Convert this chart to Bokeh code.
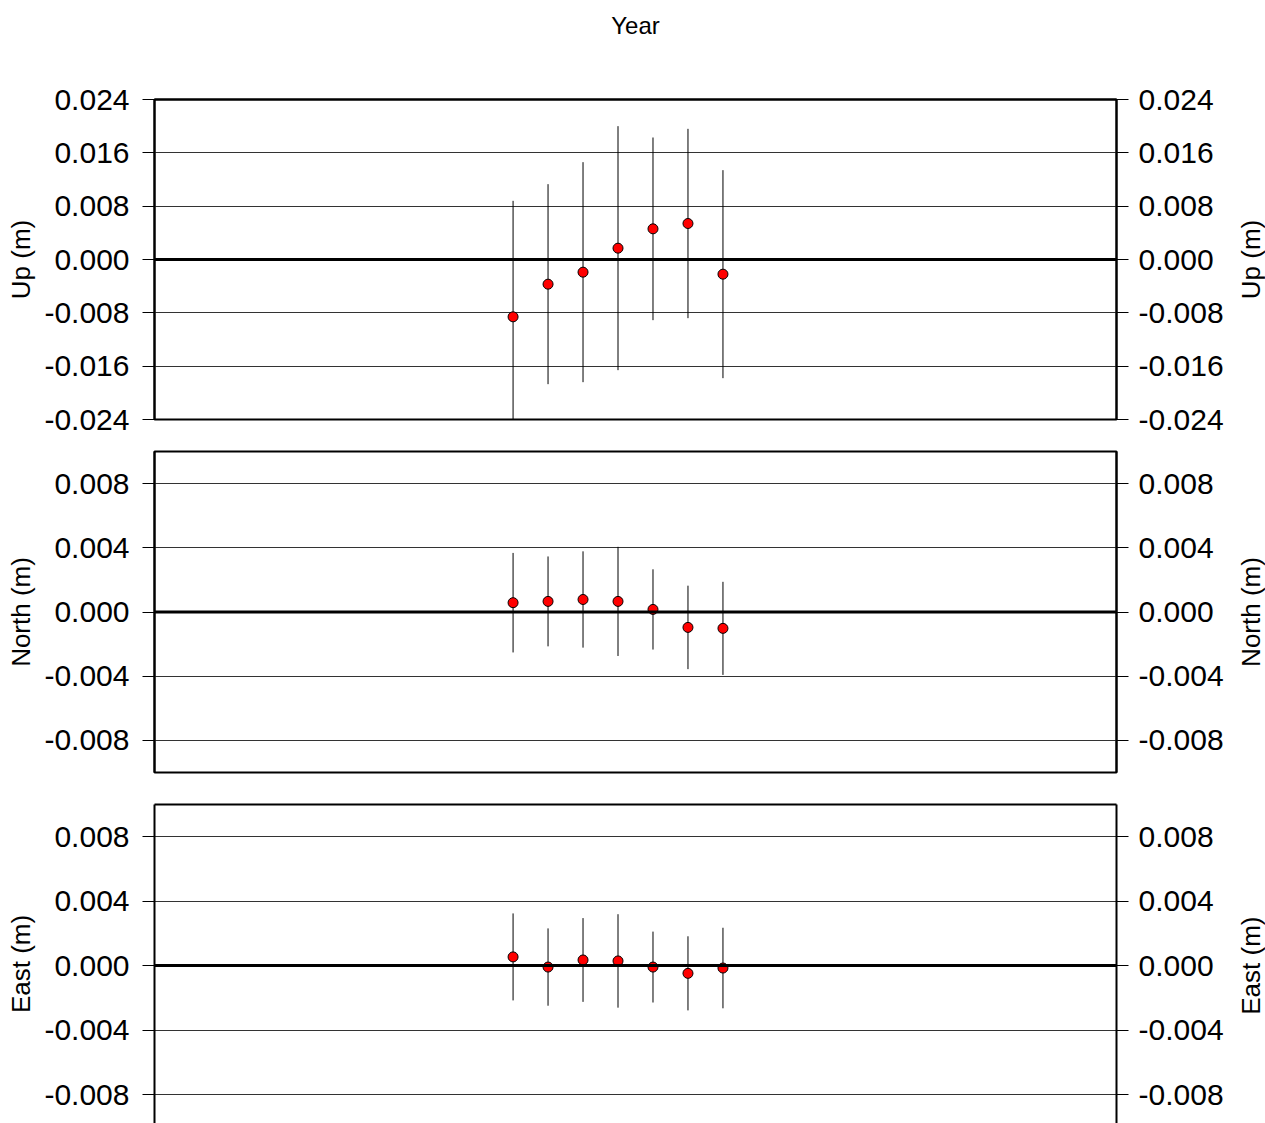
import math
from bokeh.plotting import figure
from bokeh.layouts import column, row
from bokeh.models import LinearAxis, FixedTicker, Range1d, Span, PrintfTickFormatter
from bokeh.core.properties import value
from bokeh.embed import file_html
from bokeh.resources import INLINE

# ---- data ----
years = [2010.25, 2011.25, 2012.25, 2013.25, 2014.25, 2015.25, 2016.25]
up = [-0.0086, -0.0037, -0.0019, 0.0017, 0.0046, 0.0054, -0.0022]
up_err = [0.0174, 0.0150, 0.0165, 0.0183, 0.0137, 0.0142, 0.0156]
north = [0.00058, 0.00066, 0.00078, 0.00066, 0.00016, -0.00096, -0.00102]
north_err = [0.0031, 0.0028, 0.0030, 0.0034, 0.0025, 0.0026, 0.0029]
east = [0.00054, -0.00009, 0.00035, 0.00029, -0.00009, -0.00048, -0.00015]
east_err = [0.0027, 0.0024, 0.0026, 0.0029, 0.0022, 0.0023, 0.0025]
up_ticks = [-0.024, -0.016, -0.008, 0.0, 0.008, 0.016, 0.024]
ne_ticks = [-0.008, -0.004, 0.0, 0.004, 0.008]
x_start, x_end = 2000.0, 2027.5

FONT = "Liberation Sans"
LABEL_W = 40


def make_panel(label, vals, errs, ticks, y0, y1, frame_h, top, bottom, outline, xlabel=None):
    p = figure(frame_width=962, frame_height=frame_h,
               x_range=Range1d(x_start, x_end), y_range=Range1d(y0, y1),
               x_axis_location=None, y_axis_location="left",
               output_backend="svg", toolbar_location=None,
               min_border_left=154, min_border_right=109,
               min_border_top=top, min_border_bottom=bottom,
               background_fill_color="white", border_fill_color="white")
    p.xgrid.visible = False
    p.ygrid.ticker = FixedTicker(ticks=ticks)
    p.ygrid.grid_line_color = "#333333"
    p.ygrid.grid_line_width = 1
    if outline:
        p.outline_line_color = "black"
        p.outline_line_width = 2
        p.outline_line_alpha = 1.0
    else:
        p.outline_line_color = None
    if xlabel is not None or not outline:
        top_ax = LinearAxis(ticker=FixedTicker(ticks=[]), major_tick_out=0,
                            major_tick_in=0, minor_tick_out=0, minor_tick_in=0,
                            major_label_standoff=0, axis_line_width=2,
                            axis_line_color="black")
        if xlabel is not None:
            top_ax.axis_label = xlabel
            top_ax.axis_label_text_font = FONT
            top_ax.axis_label_text_font_size = "24px"
            top_ax.axis_label_text_font_style = "normal"
            top_ax.axis_label_text_color = "black"
            top_ax.axis_label_standoff = 61
        p.add_layout(top_ax, "above")
    right = LinearAxis()
    p.add_layout(right, "right")
    for ax, std in ((p.yaxis[0], 13), (right, 10)):
        ax.ticker = FixedTicker(ticks=ticks)
        ax.formatter = PrintfTickFormatter(format="%.3f")
        ax.major_label_text_font = FONT
        ax.major_label_text_font_size = "30px"
        ax.major_label_text_color = "black"
        ax.major_label_standoff = std
        ax.major_tick_out = 12
        ax.major_tick_in = 0
        ax.minor_tick_out = 0
        ax.minor_tick_in = 0
        ax.axis_line_width = 2
        ax.axis_line_color = "black"
        ax.major_tick_line_color = "black"
    left = p.yaxis[0]
    left.axis_label = label
    left.axis_label_text_font = FONT
    left.axis_label_text_font_size = "26px"
    left.axis_label_text_font_style = "normal"
    left.axis_label_text_color = "black"
    left.axis_label_standoff = 5
    p.add_layout(Span(location=0, dimension="width", line_color="black", line_width=3))
    lo = [v - e for v, e in zip(vals, errs)]
    hi = [v + e for v, e in zip(vals, errs)]
    p.segment(x0=years, y0=lo, x1=years, y1=hi, line_color="black", line_width=1)
    p.scatter(x=years, y=vals, size=10, fill_color="red", line_color="black", line_width=1)

    # right-hand axis title, reading bottom-to-top like the left one
    q = figure(frame_width=LABEL_W, frame_height=frame_h,
               x_range=Range1d(0, LABEL_W), y_range=Range1d(y0, y1),
               x_axis_location=None, y_axis_location=None,
               output_backend="svg", toolbar_location=None,
               min_border_left=0, min_border_right=0,
               min_border_top=top, min_border_bottom=bottom,
               background_fill_color="white", border_fill_color="white")
    q.outline_line_color = None
    q.grid.visible = False
    q.text(x=[24], y=[0.0], text=[label], angle=math.pi / 2,
           text_align="center", text_baseline="middle",
           text_font=value(FONT), text_font_size=value("26px"), text_color="black")
    return row(p, q, spacing=0)


p1 = make_panel("Up (m)", up, up_err, up_ticks, -0.024, 0.024, 320, 99, 28, True, xlabel="Year")
p2 = make_panel("North (m)", north, north_err, ne_ticks, -0.01, 0.01, 321, 4, 16, True)
p3 = make_panel("East (m)", east, east_err, ne_ticks, -0.0098, 0.01, 319, 16, 0, False)

layout = column(p1, p2, p3, spacing=0)
open("out.html", "w").write(file_html(layout, INLINE))
